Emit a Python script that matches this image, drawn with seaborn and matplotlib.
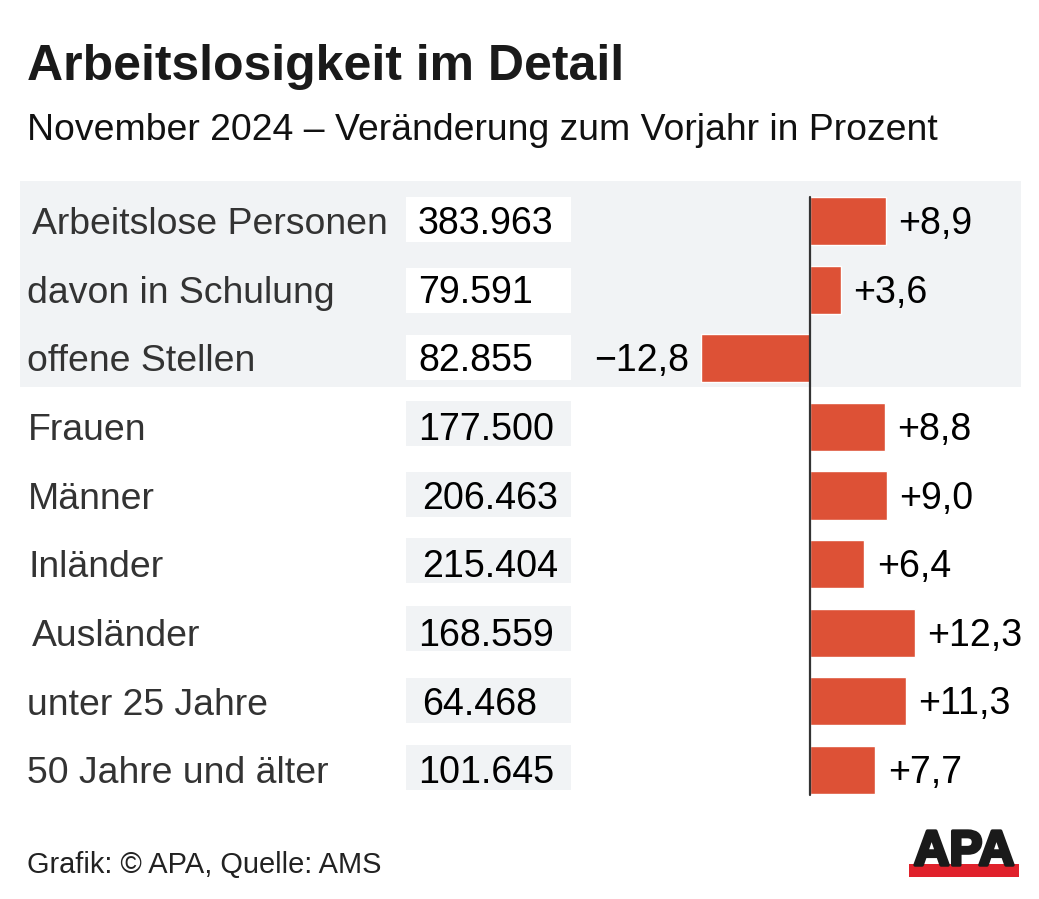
import seaborn as sns
import matplotlib.pyplot as plt
import matplotlib.patches as mpatches
import matplotlib.patheffects as pe
import pandas as pd

labels = ['Arbeitslose Personen', 'davon in Schulung', 'offene Stellen', 'Frauen', 'Männer',
          'Inländer', 'Ausländer', 'unter 25 Jahre', '50 Jahre und älter']
counts = ['383.963', '79.591', '82.855', '177.500', '206.463', '215.404', '168.559', '64.468', '101.645']
changes = [8.9, 3.6, -12.8, 8.8, 9.0, 6.4, 12.3, 11.3, 7.7]
change_labels = ['+8,9', '+3,6', '−12,8', '+8,8', '+9,0', '+6,4', '+12,3', '+11,3', '+7,7']

W, H = 1039, 899
sns.set_theme(style='white')
plt.rcParams['font.family'] = ['Liberation Sans', 'DejaVu Sans']

fig = plt.figure(figsize=(W / 100, H / 100), dpi=100)
# overlay in pixel coordinates for the text and boxes
bg = fig.add_axes([0, 0, 1, 1])
bg.set_xlim(0, W)
bg.set_ylim(H, 0)
bg.axis('off')

# the rows in the original are hand placed, so these wobble a little
row_y = [221, 290, 358, 427, 496, 564, 633, 702, 770]
box_top = [197, 268, 335, 401, 472, 538, 606, 678, 745]
label_x = [32, 27, 27, 28, 28, 28, 32, 27, 27]
count_x = [418, 418, 418, 418, 422, 422, 418, 422, 418]

bg.add_patch(mpatches.Rectangle((20, 181), 1001, 206, color='#f1f3f5', lw=0))

tc = '#333333'
for i in range(9):
    y = row_y[i]
    fc = 'white' if i < 3 else '#f1f3f5'
    bg.add_patch(mpatches.Rectangle((406, box_top[i]), 165, 45, color=fc, lw=0))
    bg.text(label_x[i], y + 13, labels[i], fontsize=26.9, color=tc, va='baseline', ha='left')
    bg.text(count_x[i], y + 13, counts[i], fontsize=27.1, color='black', va='baseline', ha='left')

bg.text(27, 80, 'Arbeitslosigkeit im Detail', fontsize=36, fontweight='bold', color='#1a1a1a', va='baseline')
bg.text(27, 140, 'November 2024 – Veränderung zum Vorjahr in Prozent', fontsize=26.95, color='#111111', va='baseline')
bg.text(27, 873, 'Grafik: © APA, Quelle: AMS', fontsize=20.9, color='#222222', va='baseline')

# logo
bg.text(964, 865, 'APA', fontsize=35.5, fontweight='bold', color='#1a1a1a', va='baseline', ha='center',
        path_effects=[pe.withStroke(linewidth=2.5, foreground='#1a1a1a')])
bg.add_patch(mpatches.Rectangle((909, 864), 110, 13, color='#e0212b', lw=0))

# bars: x axis scaled so 0 is at 810 px, 1 unit about 8.5 px
px = 8.5
step = (770 - 221) / 8
x0, x1 = 600, 1030
ax_top, ax_bot = 221 - step / 2, 770 + step / 2
ax = fig.add_axes([x0 / W, 1 - ax_bot / H, (x1 - x0) / W, (ax_bot - ax_top) / H])
ax.patch.set_alpha(0)
df = pd.DataFrame({'label': labels, 'change': changes})
sns.barplot(data=df, y='label', x='change', color='#dd5136', saturation=1, width=0.7, ax=ax)
ax.set_xlim(-(810 - x0) / px, (x1 - 810) / px)
ax.set_ylim(8.5, -0.5)
ax.axvline(0, ymin=0.015, ymax=0.983, color='#333333', lw=1.6)
ax.axis('off')
for i, v in enumerate(changes):
    ax.annotate(change_labels[i], (v, i), xytext=(9 if v > 0 else -9, -9.4), textcoords='offset points',
                ha='left' if v > 0 else 'right', va='baseline', fontsize=27, color='black')

fig.savefig('out.png', dpi=100)
